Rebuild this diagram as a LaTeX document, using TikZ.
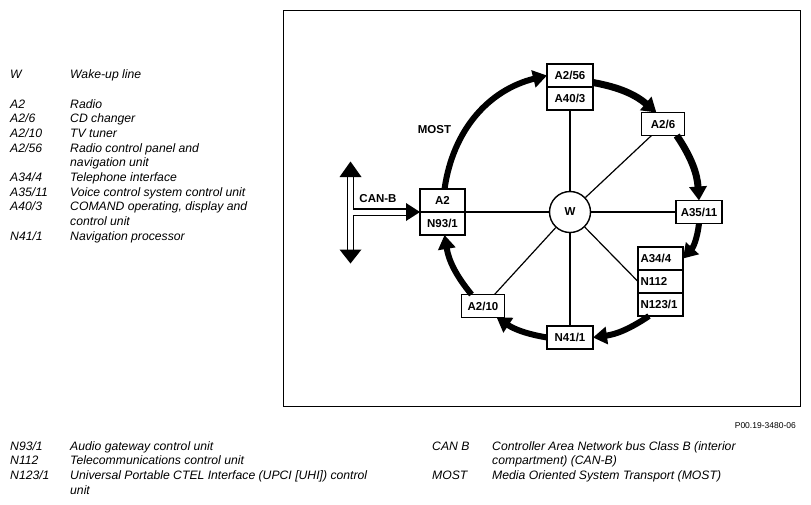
\documentclass[tikz,border=0pt]{standalone}
\usepackage{fontspec}
\setmainfont{Liberation Sans}
\usetikzlibrary{arrows.meta, positioning}
\tikzstyle{unit}    = [rectangle, draw, line width=1.4pt, minimum width=46pt,
                        minimum height=23pt, inner sep=0pt, outer sep=0pt,
                        font=\fontsize{11.5}{13}\selectfont\bfseries]
\tikzstyle{stack}   = [unit, minimum width=45pt, text width=40pt, align=left]
\tikzstyle{hub}     = [circle, draw, line width=1.4pt, minimum size=41pt,
                        inner sep=0pt, font=\fontsize{11.5}{13}\selectfont\bfseries]
\tikzstyle{most}    = [line width=6pt, -{Triangle[length=14pt,width=17pt]}]
\tikzstyle{spoke}   = [line width=1.2pt]
\tikzstyle{bus}     = [line width=1.3pt]
\tikzstyle{keytext} = [anchor=base west, inner sep=0pt,
                        font=\fontsize{12.2}{14}\selectfont\itshape]

\begin{document}
\begin{tikzpicture}[x=1pt, y=-1pt]
\useasboundingbox (0,0) rectangle (811,504);

% legend, upper left
\node[keytext] (w-c)    at (10,78)    {W};
\node[keytext] (w-d)    at (70,78)    {Wake-up line};
\node[keytext] (a2-c)   at (10,108)   {A2};
\node[keytext] (a2-d)   at (70,108)   {Radio};
\node[keytext] (a26-c)  at (10,122.7) {A2/6};
\node[keytext] (a26-d)  at (70,122.7) {CD changer};
\node[keytext] (a210-c) at (10,137.4) {A2/10};
\node[keytext] (a210-d) at (70,137.4) {TV tuner};
\node[keytext] (a256-c) at (10,152.1) {A2/56};
\node[keytext] (a256-d) at (70,152.1) {Radio control panel and};
\node[keytext] (a256-e) at (70,166.8) {navigation unit};
\node[keytext] (a344-c) at (10,181.5) {A34/4};
\node[keytext] (a344-d) at (70,181.5) {Telephone interface};
\node[keytext] (a35-c)  at (10,196.2) {A35/11};
\node[keytext] (a35-d)  at (70,196.2) {Voice control system control unit};
\node[keytext] (a403-c) at (10,210.9) {A40/3};
\node[keytext] (a403-d) at (70,210.9) {COMAND operating, display and};
\node[keytext] (a403-e) at (70,225.6) {control unit};
\node[keytext] (n411-c) at (10,240.3) {N41/1};
\node[keytext] (n411-d) at (70,240.3) {Navigation processor};

% legend, bottom
\node[anchor=base east, inner sep=0pt, font=\fontsize{8.5}{10}\selectfont]
  (ref) at (796,428) {P00.19-3480-06};
\node[keytext] (n931-c) at (10,450)    {N93/1};
\node[keytext] (n931-d) at (70,450)    {Audio gateway control unit};
\node[keytext] (n112-c) at (10,464.7)  {N112};
\node[keytext] (n112-d) at (70,464.7)  {Telecommunications control unit};
\node[keytext] (n123-c) at (10,479.4)  {N123/1};
\node[keytext] (n123-d) at (70,479.4)  {Universal Portable CTEL Interface (UPCI [UHI]) control};
\node[keytext] (n123-e) at (70,494.1)  {unit};
\node[keytext] (canb-c) at (432,450)   {CAN B};
\node[keytext] (canb-d) at (492,450)   {Controller Area Network bus Class B (interior};
\node[keytext] (canb-e) at (492,464.7) {compartment) (CAN-B)};
\node[keytext] (most-c) at (432,479.4) {MOST};
\node[keytext] (most-d) at (492,479.4) {Media Oriented System Transport (MOST)};

% frame
\draw[line width=0.8pt] (283,10) rectangle (800,406);

% control units
\node (w)    [hub]  at (570,212)   {W};
\node (a256) [unit] at (570,75.5)  {A2/56};
\node (a403) [unit, below=0pt of a256] {A40/3};
\node (a26)  [unit, minimum width=43pt] at (663,124) {A2/6};
\node (a3511)[unit] at (699,212)   {A35/11};
\node (a344) [stack] at (660.5,258.5) {A34/4};
\node (n112) [stack, below=0pt of a344] {N112};
\node (n1231)[stack, below=0pt of n112] {N123/1};
\node (n411) [unit] at (570,337.5) {N41/1};
\node (a210) [unit, minimum width=43pt] at (483,306) {A2/10};
\node (a2)   [unit, minimum width=45pt] at (442.5,200.5) {A2};
\node (n931) [unit, minimum width=45pt, below=0pt of a2] {N93/1};

% wake-up line
\draw[spoke, line width=1.8pt] (w) -- (a403);
\draw[spoke, line width=1.8pt] (w) -- (n411);
\draw[spoke, line width=1.8pt] (w) -- (a3511);
\draw[spoke] (w) -- (a2.south east);
\draw[spoke] (w) -- (a26.-135);
\draw[spoke] (w) -- (n112.west);
\draw[spoke] (w) -- (a210.45);

% MOST ring
\draw[most] (a2.80)          to[bend left=34] (a256.west);
\draw[most, line width=7pt] ([yshift=-7pt]a256.east) to[bend left=15] (a26.120);
\draw[most, line width=7pt] (a26.-40) to[bend left=15] (a3511.north);
\draw[most] (a3511.south)    to[bend left=18] (a344.east);
\draw[most] (n1231.-135)     to[bend left=13] (n411.east);
\draw[most] (n411.west)      to[bend left=12] (a210.-40);
\draw[most] (a210.135)       to[bend left=15] (n931.-80);
\node (mostlbl) [font=\fontsize{11.5}{13}\selectfont\bfseries] at (434.5,129.5) {MOST};

% CAN-B
\coordinate (bustop) at (350.5,161.5);
\coordinate (busbot) at (350.5,263.5);
\draw[bus] (347.3,176) -- (347.3,250);
\draw[bus] (353.7,176) -- (353.7,209) -- (407,209);
\draw[bus] (353.7,250) -- (353.7,215.5) -- (407,215.5);
\fill (339.5,177) -- (bustop) -- (361.5,177) -- cycle;
\fill (339.5,249.5) -- (busbot) -- (361.5,249.5) -- cycle;
\fill (406,203) -- (a2.south west) -- (406,221) -- cycle;
\node (canlbl) [font=\fontsize{11.5}{13}\selectfont\bfseries] at (378,199) {CAN-B};

\end{tikzpicture}
\end{document}
